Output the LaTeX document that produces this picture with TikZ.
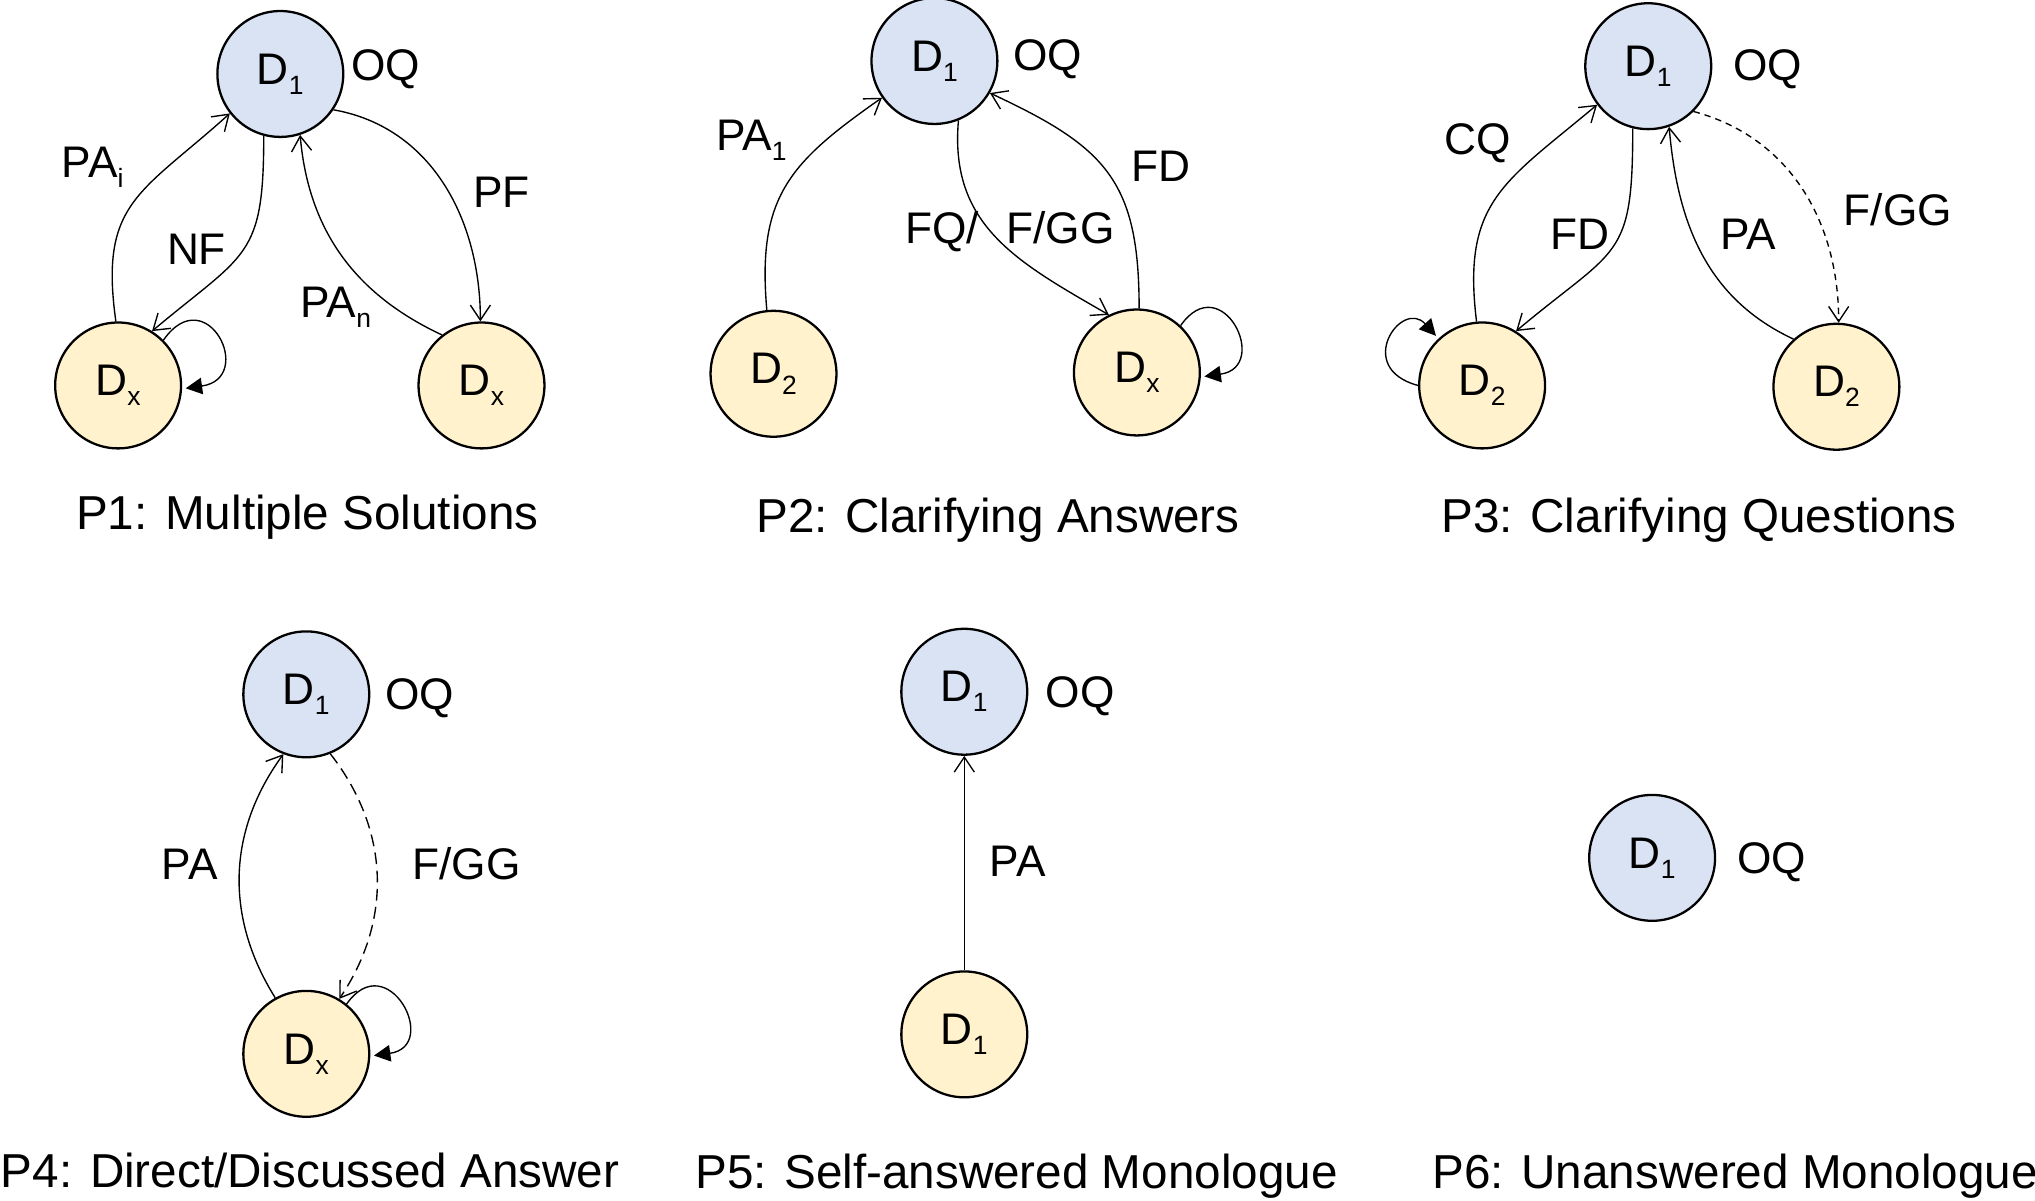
\documentclass[tikz,border=0pt]{standalone}
\usepackage{fontspec}
\setmainfont{Liberation Sans}
\usetikzlibrary{arrows.meta}
\definecolor{bluefill}{RGB}{218,227,243}
\definecolor{yelfill}{RGB}{255,242,204}
\newcommand{\Sb}[1]{\raisebox{-2.2pt}{\fontsize{5.8}{6}\selectfont #1}}
\begin{document}
\begin{tikzpicture}[x=0.1mm,y=0.1mm,
  dnode/.style={circle, draw=black, line width=0.5pt, minimum size=9.7mm, inner sep=0pt,
                font=\fontsize{9.7}{11}\selectfont},
  bnode/.style={dnode, fill=bluefill},
  ynode/.style={dnode, fill=yelfill},
  lbl/.style={anchor=base west, inner sep=0pt, font=\fontsize{9.7}{11}\selectfont},
  capt/.style={anchor=base west, inner sep=0pt, font=\fontsize{10.44}{12}\selectfont},
  conn/.style={line width=0.3pt, -{Straight Barb[length=3.3pt,width=4.4pt]}},
  loopc/.style={line width=0.3pt, -{Triangle[length=3.6pt,width=3.6pt]}, shorten >=0.8pt},
  dashA/.style={dash pattern=on 1.4pt off 1.1pt},
  dashB/.style={dash pattern=on 2.6pt off 1.4pt}
]
\useasboundingbox (0,0) rectangle (1568,925);

% ---------- P1 ----------
\node[bnode] (p1d)  at (216,868) {D\Sb{1}};
\node[ynode] (p1x1) at (91,628)  {D\Sb{x}};
\node[ynode] (p1x2) at (371,628) {D\Sb{x}};
\node[lbl] (p1oq) at (270,863) {OQ};
\draw[conn] (p1x1.92) to[out=98,in=222,looseness=1.3] (p1d.218);
\draw[conn] (p1d.255) to[out=270,in=40,looseness=1.4] (p1x1.58);
\draw[conn] (p1d.-34) to[out=-10,in=90] (p1x2.91);
\draw[conn] (p1x2.128) to[out=155,in=-85] (p1d.-72);
\draw[loopc] (p1x1.45) .. controls +(55:58) and +(8:58) .. (p1x1.-3);
\node[lbl] (p1l1) at (47,788) {PA\Sb{i}};
\node[lbl] (p1l2) at (128,721) {NF};
\node[lbl] (p1l3) at (364,765) {PF};
\node[lbl] (p1l4) at (231,680) {PA\Sb{n}};
\node[capt] (p1c) at (58,517) {P1: Multiple Solutions};

% ---------- P2 ----------
\node[bnode] (p2d) at (720,878) {D\Sb{1}};
\node[ynode] (p2a) at (596,637) {D\Sb{2}};
\node[ynode] (p2x) at (876,638) {D\Sb{x}};
\node[lbl] (p2oq) at (780,871) {OQ};
\draw[conn] (p2a.96) to[out=95,in=215,looseness=1.2] (p2d.215);
\draw[conn] (p2d.-68) to[out=-95,in=150,looseness=1.1] (p2x.116);
\draw[conn] (p2x.88) to[out=90,in=-25,looseness=1.25] (p2d.-30);
\draw[loopc] (p2x.47) .. controls +(55:55) and +(8:55) .. (p2x.-4);
\node[lbl] (p2l1) at (551,809) {PA\Sb{1}};
\node[lbl] (p2l2) at (697,737) {FQ/\hspace{6pt}F/GG};
\node[lbl] (p2l3) at (871,785) {FD};
\node[capt] (p2c) at (582,515) {P2: Clarifying Answers};

% ---------- P3 ----------
\node[bnode] (p3d) at (1270,874) {D\Sb{1}};
\node[ynode] (p3a) at (1142,628) {D\Sb{2}};
\node[ynode] (p3b) at (1415,627) {D\Sb{2}};
\node[lbl] (p3oq) at (1335,863) {OQ};
\draw[conn] (p3a.95) to[out=97,in=220,looseness=1.25] (p3d.217);
\draw[conn] (p3d.256) to[out=270,in=40,looseness=1.45] (p3a.58);
\draw[conn] (p3b.132) to[out=155,in=-85] (p3d.-71);
\draw[conn,dashA] (p3d.-45) to[out=-15,in=90] (p3b.88);
\draw[loopc] (p3a.180) .. controls +(165:52) and +(132:42) .. (p3a.133);
\node[lbl] (p3l1) at (1112,806) {CQ};
\node[lbl] (p3l2) at (1194,733) {FD};
\node[lbl] (p3l3) at (1325,733) {PA};
\node[lbl] (p3l4) at (1420,751) {F/GG};
\node[capt] (p3c) at (1110,515) {P3: Clarifying Questions};

% ---------- P4 ----------
\node[bnode] (p4d) at (236,390) {D\Sb{1}};
\node[ynode] (p4x) at (236,113) {D\Sb{x}};
\node[lbl] (p4oq) at (296,378) {OQ};
\draw[conn] (p4x.119) to[out=122,in=234,looseness=1] (p4d.249);
\draw[conn,dashB] (p4d.-68) to[out=-52,in=56,looseness=1] (p4x.59);
\draw[loopc] (p4x.51) .. controls +(55:55) and +(8:55) .. (p4x.-2);
\node[lbl] (p4l1) at (124,247) {PA};
\node[lbl] (p4l2) at (317,247) {F/GG};
\node[capt] (p4c) at (0,10) {P4: Direct/Discussed Answer};

% ---------- P5 ----------
\node[bnode] (p5d) at (743,392) {D\Sb{1}};
\node[ynode] (p5b) at (743,128) {D\Sb{1}};
\node[lbl] (p5oq) at (805,380) {OQ};
\draw[conn] (p5b) -- (p5d);
\node[lbl] (p5l1) at (762,250) {PA};
\node[capt] (p5c) at (535,9) {P5: Self-answered Monologue};

% ---------- P6 ----------
\node[bnode] (p6d) at (1273,264) {D\Sb{1}};
\node[lbl] (p6oq) at (1338,252) {OQ};
\node[capt] (p6c) at (1103,9) {P6: Unanswered Monologue};
\end{tikzpicture}
\end{document}
